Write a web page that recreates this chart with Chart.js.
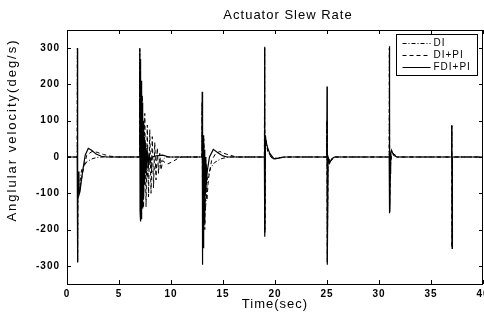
<!DOCTYPE html>
<html>
<head>
<meta charset="utf-8">
<script src="https://cdn.jsdelivr.net/npm/chart.js@4.4.1/dist/chart.umd.min.js"></script>
<style>
  html, body { margin: 0; padding: 0; background: #fff; overflow: hidden; }
  #wrap { width: 484px; height: 322px; overflow: hidden; position: relative; }
  canvas { display: block; }
</style>
</head>
<body>
<div id="wrap"><canvas id="c" width="500" height="322"></canvas></div>
<script>
// ---- data ----
const chartTitle = 'Actuator Slew Rate';
const xTitle = 'Time(sec)';
const yTitle = 'Anglular velocity(deg/s)';
const seriesNames = ['DI', 'DI+PI', 'FDI+PI'];
const xTicks = [0, 5, 10, 15, 20, 25, 30, 35, 40];
const yTicks = [-300, -200, -100, 0, 100, 200, 300];

// DI (dash-dot)
const diTime = [0, 0.98, 1.0, 1.02, 1.05, 1.15, 1.4, 1.9, 2.5, 3.0, 3.5,
  6.98, 7.0, 7.1, 7.2, 7.35, 7.5, 7.7, 7.9, 8.2, 8.5, 8.8, 9.1, 9.5,
  12.98, 13.0, 13.05, 13.15, 13.3, 13.5, 13.8, 14.2, 14.8, 15.5,
  18.98, 19.0, 19.03, 19.08, 19.3, 19.7, 20.3, 21.0,
  24.98, 25.0, 25.03, 25.1, 25.3, 25.8,
  30.98, 31.0, 31.03, 31.1, 31.25, 31.8,
  36.98, 37.0, 37.03, 37.06, 40];
const diVel = [0, 0, 300, -290, -100, -90, -36, -13, -4, -1, 0,
  0, 300, -150, 100, -80, 40, -60, 10, -40, -30, -27, -10, 0,
  0, 150, -250, 40, -150, -60, -30, -15, -5, 0,
  0, 300, -210, 50, 15, -3, -2, 0,
  0, 100, -290, 0, -12, 0,
  0, 300, -150, -20, 12, 0,
  0, 85, -250, 0, 0];

// DI+PI (dashed)
const dipiTime = [0, 0.98, 1.0, 1.02, 1.05, 1.15, 1.3, 1.6, 1.9, 2.4, 2.9, 3.5, 4.2, 4.9,
  6.98, 7.0, 7.12, 7.24, 7.36, 7.48, 7.6, 7.72, 7.84, 7.96, 8.08, 8.2, 8.32, 8.44, 8.56, 8.68, 8.8, 8.92, 9.04, 9.2, 9.5, 9.7, 10.2, 10.6, 11.0,
  12.98, 13.0, 13.05, 13.15, 13.25, 13.35, 13.45, 13.6, 13.9, 14.3, 14.7, 15.3, 16.3,
  18.98, 19.0, 19.03, 19.08, 19.3, 19.6, 20.0, 21.0,
  24.98, 25.0, 25.03, 25.1, 25.25, 25.7,
  30.98, 31.0, 31.03, 31.1, 31.2, 31.7,
  36.98, 37.0, 37.03, 37.06, 40];
const dipiVel = [0, 0, 300, -290, -100, -105, -75, -30, 5, 15, 13, 7, 2, 0,
  0, 250, -150, 170, -140, 120, -137, 88, -110, 75, -100, 56, -85, 40, -63, 25, -45, 10, -36, -10, -17, -19, -12, -5, 0,
  0, 150, -250, 50, -200, 0, -120, -60, -10, 10, 15, 8, 0,
  0, 300, -200, 55, 20, 0, -5, 0,
  0, 100, -290, 0, -15, 0,
  0, 300, -150, -30, 15, 0,
  0, 85, -250, 0, 0];

// FDI+PI (solid)
const fdipiTime = [0, 0.98, 1.0, 1.02, 1.05, 1.1, 1.15, 1.25, 1.5, 1.75, 2.05, 2.4, 2.8, 3.3, 3.8,
  6.98, 7.0, 7.025, 7.05, 7.075, 7.1, 7.125, 7.15, 7.175, 7.2, 7.225, 7.25, 7.275, 7.3, 7.325, 7.35, 7.375, 7.4, 7.425, 7.45, 7.475, 7.55, 7.6, 7.7, 7.8, 7.9, 8.0, 8.2, 8.6, 9.2, 9.8,
  12.98, 13.0, 13.02, 13.05, 13.08, 13.11, 13.14, 13.17, 13.2, 13.23, 13.26, 13.3, 13.33, 13.37, 13.4, 13.5, 13.7, 14.07, 14.5, 15.0, 15.4,
  18.98, 19.0, 19.03, 19.08, 19.15, 19.3, 19.5, 19.9, 20.4, 20.8,
  24.98, 25.0, 25.03, 25.1, 25.25, 25.45, 25.7,
  30.98, 31.0, 31.03, 31.08, 31.12, 31.2, 31.4, 31.7,
  36.98, 37.0, 37.03, 37.06, 40];
const fdipiVel = [0, 0, 300, -290, -100, -40, -105, -95, -40, 5, 24, 18, 8, 2, 0,
  0, 300, -150, 270, -178, 240, -170, 210, -155, 180, -140, 150, -120, 125, -105, 100, -90, 75, -75, 55, -60, 40, -45, 25, -30, 10, -15, 0, 3, 5, 0,
  0, 180, -297, 83, -250, 60, -220, 40, -180, 20, -140, 0, -100, -20, -70, -36, 0, 21, 12, 3, 0,
  0, 304, -220, 60, 40, 25, 10, -5, -3, 0,
  0, 194, -297, 0, -17, -5, 0,
  0, 305, -155, -45, 10, 19, 5, 0,
  0, 88, -252, 0, 0];

// ---- chart ----
const FONT = "'Liberation Sans', Arial, Helvetica, sans-serif";
const pts = (t, v) => t.map((x, i) => ({ x: x, y: v[i] }));

const spacingPlugin = {
  id: 'spacing',
  beforeUpdate(c) { c.ctx.letterSpacing = '1px'; },
  beforeLayout(c) { c.ctx.letterSpacing = '1px'; },
  beforeDraw(c) { c.ctx.letterSpacing = '1px'; }
};

const framePlugin = {
  id: 'frame',
  afterDraw(c) {
    const { ctx, chartArea: a, scales } = c;
    ctx.save();
    ctx.strokeStyle = '#000';
    ctx.fillStyle = '#000';
    ctx.lineWidth = 1;
    ctx.setLineDash([]);
    ctx.strokeRect(Math.round(a.left) + 0.5, Math.round(a.top) + 0.5,
      Math.round(a.right - a.left) - 1, Math.round(a.bottom - a.top));
    const L = 4;
    ctx.beginPath();
    scales.x.ticks.forEach(t => {
      const px = Math.round(scales.x.getPixelForValue(t.value)) + 0.5;
      ctx.moveTo(px, a.bottom); ctx.lineTo(px, a.bottom - L);
      ctx.moveTo(px, a.top); ctx.lineTo(px, a.top + L);
    });
    scales.y.ticks.forEach(t => {
      const py = Math.round(scales.y.getPixelForValue(t.value)) + 0.5;
      ctx.moveTo(a.left, py); ctx.lineTo(a.left + L, py);
      ctx.moveTo(a.right, py); ctx.lineTo(a.right - L, py);
    });
    ctx.stroke();

    // chart title
    ctx.font = '13px ' + FONT;
    ctx.letterSpacing = '1px';
    ctx.textAlign = 'center';
    ctx.textBaseline = 'middle';
    ctx.fillText(chartTitle, a.left + (a.right - a.left) / 2 + 13, a.top - 14.5);

    // y axis title
    ctx.save();
    ctx.letterSpacing = '2px';
    ctx.translate(12.5, a.top + 100);
    ctx.rotate(-Math.PI / 2);
    ctx.fillText(yTitle, 0, 0);
    ctx.restore();

    // legend box drawn from the datasets
    ctx.letterSpacing = '1px';
    const bx = Math.round(a.right - 87) + 0.5, by = Math.round(a.top + 4) + 0.5, bw = 81, bh = 41;
    ctx.fillStyle = '#fff';
    ctx.fillRect(bx, by, bw, bh);
    ctx.strokeRect(bx, by, bw, bh);
    ctx.font = '10px ' + FONT;
    ctx.textBaseline = 'middle';
    ctx.textAlign = 'left';
    ctx.fillStyle = '#000';
    c.data.datasets.forEach((ds, i) => {
      const y = Math.round(by + 8.5 + i * 12) + 0.5;
      ctx.beginPath();
      ctx.setLineDash(ds.borderDash || []);
      ctx.lineWidth = 1;
      ctx.moveTo(bx + 6, y); ctx.lineTo(bx + 34, y);
      ctx.stroke();
      ctx.setLineDash([]);
      ctx.fillText(ds.label, bx + 37, y);
    });
    ctx.restore();
  }
};

new Chart(document.getElementById('c'), {
  type: 'line',
  data: {
    datasets: [
      { label: seriesNames[0], data: pts(diTime, diVel), borderColor: '#000', borderWidth: 1, borderDash: [4, 2, 1, 2] },
      { label: seriesNames[1], data: pts(dipiTime, dipiVel), borderColor: '#000', borderWidth: 1, borderDash: [4, 3] },
      { label: seriesNames[2], data: pts(fdipiTime, fdipiVel), borderColor: '#000', borderWidth: 1.2 }
    ]
  },
  options: {
    responsive: false,
    animation: false,
    parsing: false,
    normalized: true,
    events: [],
    elements: { point: { radius: 0 }, line: { tension: 0 } },
    layout: { padding: { left: 0, right: 17, top: 30, bottom: 0 } },
    plugins: {
      legend: { display: false },
      tooltip: { enabled: false },
      title: { display: false }
    },
    scales: {
      x: {
        type: 'linear', min: 0, max: 40,
        afterBuildTicks: s => { s.ticks = xTicks.map(v => ({ value: v })); },
        afterFit: s => { s.height = 38; },
        grid: { display: false, drawTicks: false },
        border: { display: false },
        ticks: { color: '#000', maxRotation: 0, autoSkip: false, padding: 4,
          font: { family: FONT, size: 10, weight: 'bold' } },
        title: { display: true, text: xTitle, color: '#000',
          font: { family: FONT, size: 13 }, padding: { top: 0, bottom: 10 } }
      },
      y: {
        type: 'linear', min: -350, max: 350,
        afterBuildTicks: s => { s.ticks = yTicks.map(v => ({ value: v })); },
        afterFit: s => { s.width = 67; },
        grid: { display: false, drawTicks: false },
        border: { display: false },
        ticks: { color: '#000', padding: 7,
          font: { family: FONT, size: 10, weight: 'bold' } },
        title: { display: false }
      }
    }
  },
  plugins: [spacingPlugin, framePlugin]
});
</script>
</body>
</html>
